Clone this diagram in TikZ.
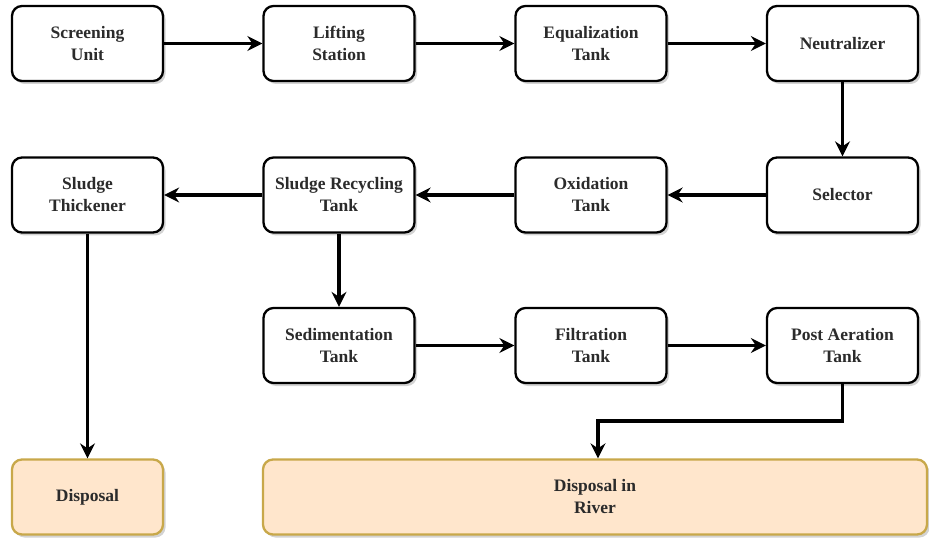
\documentclass[tikz,border=0pt]{standalone}
\usepackage{fontspec}
\setmainfont{Liberation Serif}
\usetikzlibrary{arrows.meta,shadows}
\definecolor{txt}{HTML}{2B2B2B}
\definecolor{endfill}{HTML}{FFE6CC}
\definecolor{enddraw}{HTML}{C8A84A}
\tikzset{
  stepbox/.style={draw=black, line width=2.3pt, rounded corners=10pt, fill=white,
    minimum width=151pt, minimum height=75pt, align=center, text=txt,
    font=\bfseries\fontsize{17.5}{22}\selectfont,
    drop shadow={shadow xshift=2.5pt, shadow yshift=-3pt, opacity=0.35}},
  endbox/.style={stepbox, draw=enddraw, fill=endfill},
  flow/.style={line width=3.2pt, -{Stealth[length=15pt,width=15pt,inset=5pt]}}
}
\begin{document}
\begin{tikzpicture}[x=1pt,y=-1pt]
\useasboundingbox (0,0) rectangle (929,540);
% first row
\node[stepbox] (screen) at (87.5,43.5) {Screening\\Unit};
\node[stepbox] (lift) at (339,43.5) {Lifting\\Station};
\node[stepbox] (equal) at (591,43.5) {Equalization\\Tank};
\node[stepbox] (neutral) at (842.5,43.5) {Neutralizer};
% second row
\node[stepbox] (thick) at (87.5,195) {Sludge\\Thickener};
\node[stepbox] (recyc) at (339,195) {Sludge Recycling\\Tank};
\node[stepbox] (oxid) at (591,195) {Oxidation\\Tank};
\node[stepbox] (select) at (842.5,195) {Selector};
% third row
\node[stepbox] (sedim) at (339,345.5) {Sedimentation\\Tank};
\node[stepbox] (filt) at (591,345.5) {Filtration\\Tank};
\node[stepbox] (post) at (842.5,345.5) {Post Aeration\\Tank};
% outlets
\node[endbox] (disp) at (87.5,497) {Disposal};
\node[endbox, minimum width=664pt] (river) at (595,497) {Disposal in\\River};
% connectors
\draw[flow] (screen) -- (lift);
\draw[flow] (lift) -- (equal);
\draw[flow] (equal) -- (neutral);
\draw[flow] (neutral) -- (select);
\draw[flow] (select) -- (oxid);
\draw[flow] (oxid) -- (recyc);
\draw[flow] (recyc) -- (thick);
\draw[flow] (thick) -- (disp);
\draw[flow] (recyc) -- (sedim);
\draw[flow] (sedim) -- (filt);
\draw[flow] (filt) -- (post);
\coordinate (bend) at (598,421);
\draw[flow] (post.south) |- (bend) -- (bend |- river.north);
\end{tikzpicture}
\end{document}
